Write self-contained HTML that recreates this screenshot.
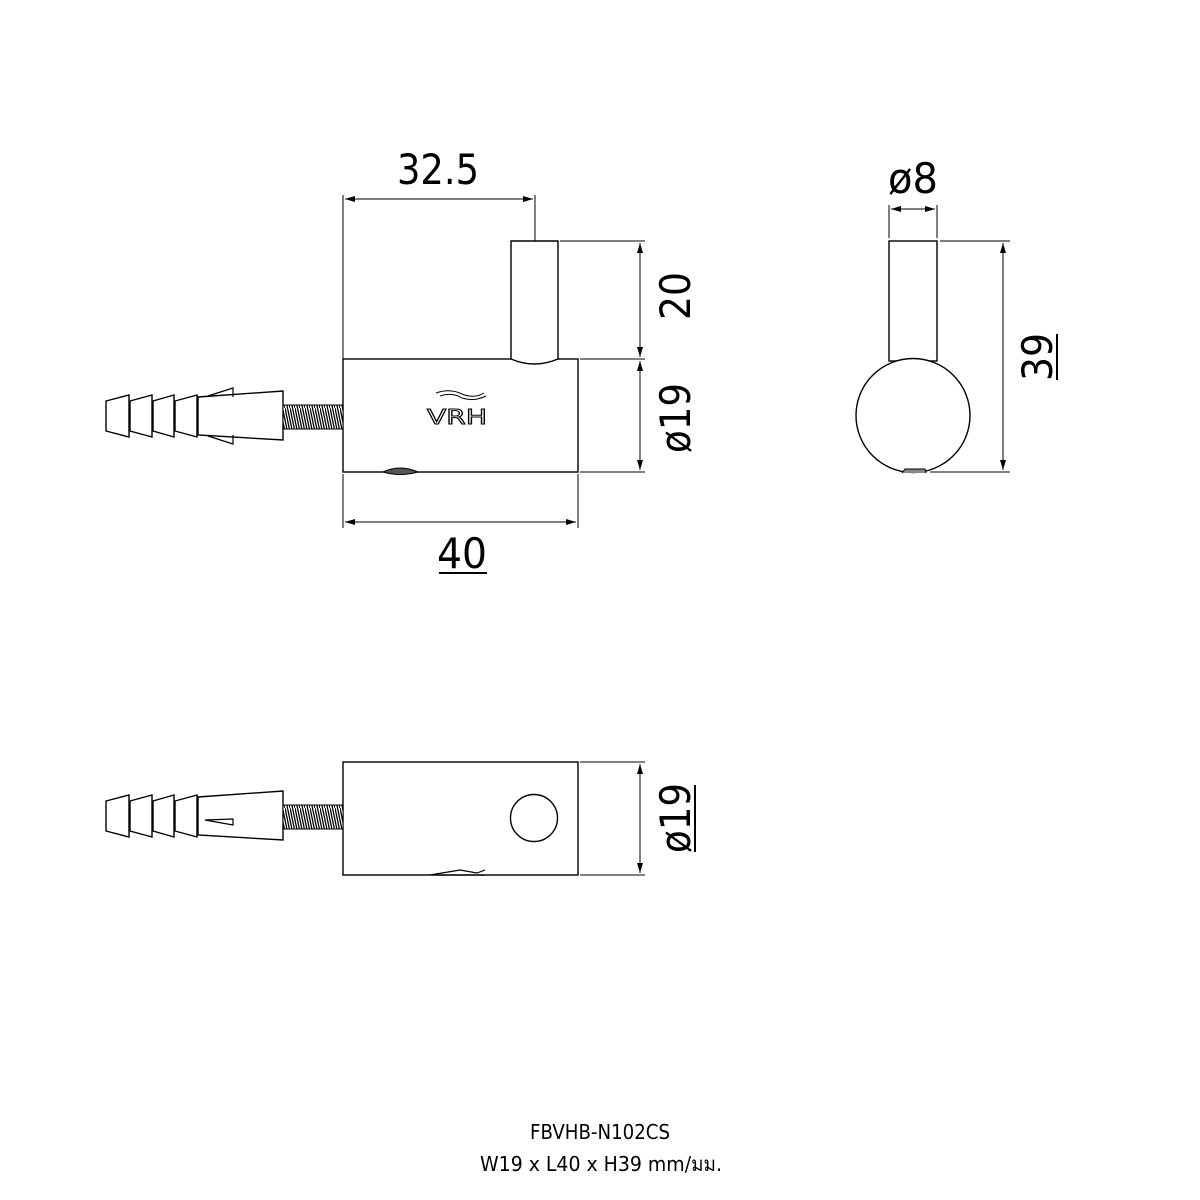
<!DOCTYPE html>
<html><head><meta charset="utf-8"><style>html,body{margin:0;padding:0;background:#fff}svg{display:block}</style></head>
<body>
<svg width="1200" height="1200" viewBox="0 0 1200 1200" xmlns="http://www.w3.org/2000/svg">
<defs>
<marker id="a" viewBox="0 0 10 6" refX="10" refY="3" markerWidth="10" markerHeight="6" orient="auto-start-reverse" markerUnits="userSpaceOnUse"><path d="M0,0L10,3L0,6z" fill="#000"/></marker>
<pattern id="th" width="5" height="24" patternUnits="userSpaceOnUse"><rect width="5" height="24" fill="#fff"/><path d="M0,0 L5,24 M2.5,0 L7.5,24 M-2.5,0 L2.5,24" stroke="#000" stroke-width="1.3"/></pattern>
</defs>
<g fill="none" stroke="#000" stroke-width="1.4">
<rect x="343" y="359" width="235" height="113"/>
<path d="M511,241 H558 V359 Q534,369 511,359 Z" fill="#fff"/>
<path d="M383,472 Q400,464 418,472 Q400,477 383,472Z" fill="#555" stroke-width="1"/>
<g id="anc">
<path d="M106,401 L129,395 L129,437 L106,431 Z"/>
<path d="M130,401 L152,395 L152,437 L130,431 Z"/>
<path d="M153,401 L174,395 L174,437 L153,431 Z"/>
<path d="M175,401 L197,395 L197,437 L175,431 Z"/>
<path d="M198,397 L283,391 L283,440 L198,435 Z"/>
<rect x="283" y="405" width="60" height="24" fill="url(#th)" stroke="#000" stroke-width="1"/>
</g>
<path d="M208,396 L233,388 L233,397 M208,436 L233,444 L233,435" stroke-width="1.2"/>
<rect x="889" y="241" width="48" height="120"/>
<circle cx="913" cy="415.5" r="57" fill="#fff"/>
<path d="M902,473 L905,469 L925,469 L926,473" fill="#888" stroke-width="1"/>
<rect x="343" y="762" width="235" height="113"/>
<circle cx="534" cy="818" r="23.5"/>
<path d="M430,875 L460,870 L477,873 L485,870 M438,875 L485,875" stroke-width="1.2"/>
<use href="#anc" transform="translate(0,400)"/>
<path d="M205,820 L233,819 L233,825 Z" stroke-width="1.2"/>
</g>
<g stroke="#000" stroke-width="1" fill="none">
<path d="M343,195 V359 M535,195 V241"/>
<path d="M345,199 H533" marker-start="url(#a)" marker-end="url(#a)"/>
<path d="M560,241 H645 M580,359 H645 M580,472 H645"/>
<path d="M640,243 V357" marker-start="url(#a)" marker-end="url(#a)"/>
<path d="M640,361 V470" marker-start="url(#a)" marker-end="url(#a)"/>
<path d="M343,474 V528 M578,474 V528"/>
<path d="M345,522 H576" marker-start="url(#a)" marker-end="url(#a)"/>
<path d="M889,205 V238 M937,205 V238"/>
<path d="M891,209 H935" marker-start="url(#a)" marker-end="url(#a)"/>
<path d="M940,241 H1010 M930,472 H1010"/>
<path d="M1003,243 V470" marker-start="url(#a)" marker-end="url(#a)"/>
<path d="M580,762 H645 M580,875 H645"/>
<path d="M640,764 V873" marker-start="url(#a)" marker-end="url(#a)"/>
</g>
<path d="M436,393 Q450,388 462,394 Q474,399 484,393 M440,396 Q452,392 462,398 Q474,402 486,396" stroke="#000" stroke-width="1" fill="none"/>
<text x="457" y="424" font-family="DejaVu Sans, Liberation Sans, sans-serif" font-size="20" text-anchor="middle" fill="#fff" stroke="#000" stroke-width="1" textLength="60" lengthAdjust="spacingAndGlyphs">VRH</text>
<g font-family="DejaVu Sans, Liberation Sans, sans-serif" font-size="42" fill="#000" text-anchor="middle">
<text x="438" y="184" textLength="82" lengthAdjust="spacingAndGlyphs">32.5</text>
<text x="913" y="193" textLength="50" lengthAdjust="spacingAndGlyphs">ø8</text>
<text x="462" y="568" textLength="50" lengthAdjust="spacingAndGlyphs">40</text>
<text transform="translate(690,296) rotate(-90)" textLength="48" lengthAdjust="spacingAndGlyphs">20</text>
<text transform="translate(690,418) rotate(-90)" textLength="70" lengthAdjust="spacingAndGlyphs">ø19</text>
<text transform="translate(1052,357) rotate(-90)" textLength="48" lengthAdjust="spacingAndGlyphs">39</text>
<text transform="translate(690,818) rotate(-90)" textLength="70" lengthAdjust="spacingAndGlyphs">ø19</text>
</g>
<g stroke="#000" stroke-width="2">
<path d="M439,573 H487"/>
<path d="M1057,334 V380"/>
<path d="M695,785 V852"/>
</g>
<g font-family="DejaVu Sans, Liberation Sans, sans-serif" font-size="20" fill="#000" text-anchor="middle">
<text x="600" y="1139" textLength="140" lengthAdjust="spacingAndGlyphs">FBVHB-N102CS</text>
<text x="601" y="1171" textLength="242" lengthAdjust="spacingAndGlyphs">W19 x L40 x H39 mm/มม.</text>
</g>
</svg>
</body></html>
